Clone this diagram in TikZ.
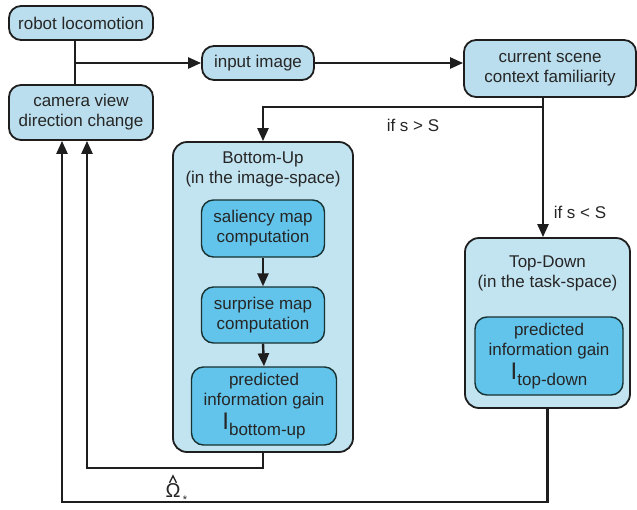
\documentclass[tikz,border=0pt]{standalone}
\usepackage{fontspec}
\setmainfont{Liberation Sans}
\usetikzlibrary{arrows.meta,calc}
\definecolor{paleblue}{RGB}{186,222,237}
\definecolor{boxblue}{RGB}{194,227,240}
\definecolor{deepblue}{RGB}{98,196,234}
\definecolor{ink}{RGB}{30,30,30}
\definecolor{txt}{RGB}{38,38,38}
\tikzset{
  base/.style={rounded corners=12pt, draw=ink, line width=1.8pt, align=center,
    text=txt, font=\fontsize{17}{20}\selectfont, inner sep=0pt},
  small/.style={base, fill=paleblue},
  group/.style={base, fill=boxblue, rounded corners=14pt},
  inner/.style={base, fill=deepblue, draw=ink!80!teal, line width=1.4pt},
  wire/.style={draw=ink, line width=2.4pt},
  arrow/.style={wire, -{Triangle[length=13pt,width=11pt]}},
  lbl/.style={text=txt, font=\fontsize{17}{20}\selectfont, inner sep=0pt},
  hatmark/.style={draw=txt, line width=1.3pt, line join=miter},
}
\newcommand{\bigI}[1]{{\fontsize{24}{24}\selectfont I}\raisebox{-6pt}{#1}}
\begin{document}
\begin{tikzpicture}[x=1pt,y=-1pt]
\useasboundingbox (0,0) rectangle (637,509);

% top row
\node[small, minimum width=144pt, minimum height=34pt] (robot) at (81,23) {robot locomotion};
\node[small, minimum width=144pt, minimum height=55pt] (camera) at (81,112.5) {camera view\\direction change};
\node[small, minimum width=112pt, minimum height=34pt] (input) at (258,63) {input image};
\node[small, minimum width=172pt, minimum height=57pt] (scene) at (550,68.5) {current scene\\context familiarity};

% bottom-up group
\node[group, minimum width=180pt, minimum height=310pt] (bu) at (263,297) {};
\node[lbl, align=center] (butitle) at (263,169) {Bottom-Up\\(in the image-space)};
\node[inner, minimum width=123pt, minimum height=57pt] (sal) at (263,228.5) {saliency map\\computation};
\node[inner, minimum width=123pt, minimum height=56pt] (sur) at (263,315) {surprise map\\computation};
\node[inner, minimum width=145pt, minimum height=78pt] (pig) at (264,406) {predicted\\information gain\\[3pt]\bigI{bottom-up}};

% top-down group
\node[group, minimum width=165pt, minimum height=170pt] (td) at (547.5,323) {};
\node[lbl, align=center] (tdtitle) at (547.5,273) {Top-Down\\(in the task-space)};
\node[inner, minimum width=148pt, minimum height=78pt] (tdig) at (549,356) {predicted\\information gain\\[3pt]\bigI{top-down}};

% junction points
\coordinate (j) at (75,63);
\coordinate (s1) at (543,107);
\coordinate (l1) at (87,468);
\coordinate (l2) at (62,502);

% connectors
\draw[wire] (robot.south -| j) -- (camera.north -| j);
\draw[arrow] (j) -- (input.west);
\draw[arrow] (input.east) -- (input.east -| scene.west);
\draw[wire] (scene.south -| s1) -- (s1);
\draw[arrow] (s1) -| (bu.north);
\draw[arrow] (s1) -- (td.north -| s1);
\draw[arrow] (sal.south) -- (sur.north);
\draw[arrow] (sur.south) -- (pig.north);
\draw[arrow] (bu.south) |- (l1) -- (camera.south -| l1);
\draw[arrow] (td.south) |- (l2) -- (camera.south -| l2);

% labels
\node[lbl] (gt) at (413,125) {if s > S};
\node[lbl] (lt) at (580,212) {if s < S};
\node[lbl, font=\fontsize{20}{20}\selectfont] (omega) at (173,491) {Ω};
\draw[hatmark] ($(omega.north)+(-3.5,-1)$) -- ($(omega.north)+(0,-8)$) -- ($(omega.north)+(3.5,-1)$);
\node[lbl, font=\fontsize{11}{11}\selectfont] (star) at (185,500) {*};
\end{tikzpicture}
\end{document}
